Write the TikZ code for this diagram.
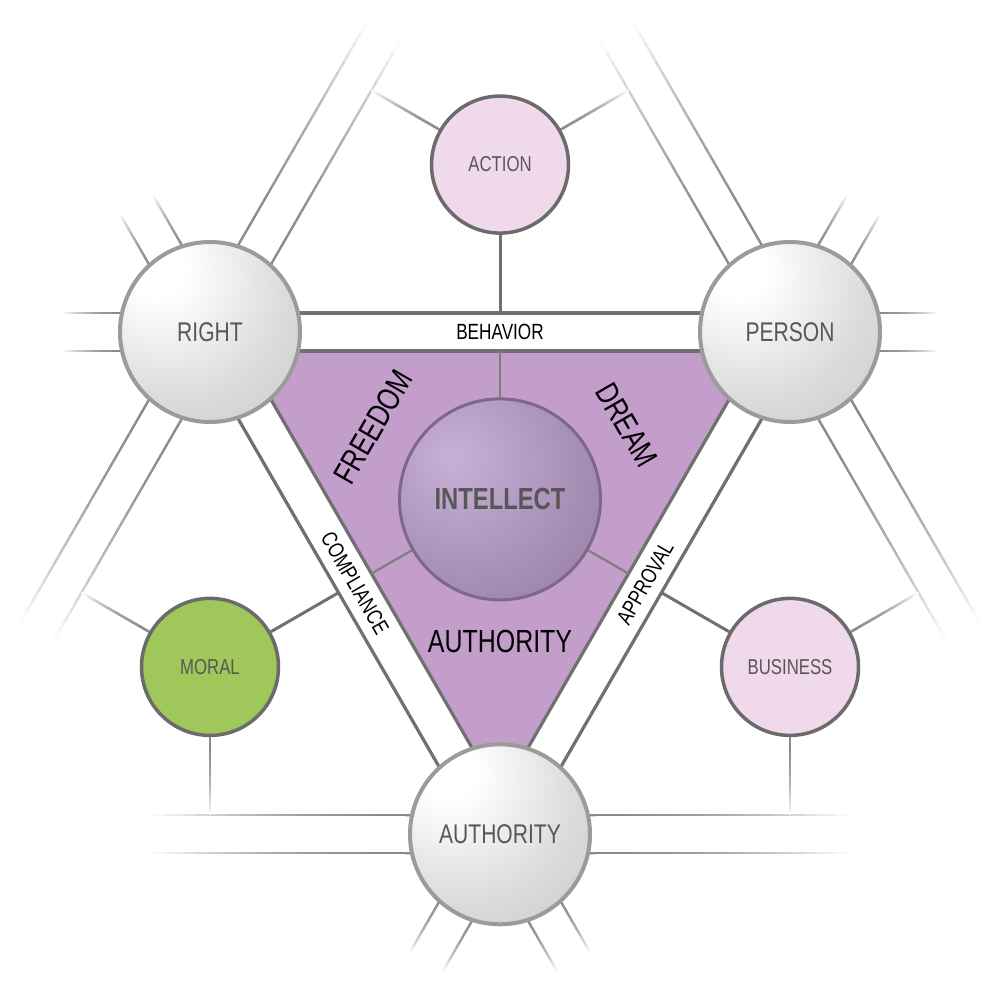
\documentclass[tikz,border=0pt]{standalone}
\usepackage{fontspec}
\setmainfont{Liberation Sans}[FakeStretch=0.78]
\usepackage{tikz}
\usetikzlibrary{calc}
\usetikzlibrary{backgrounds}
\definecolor{bandgray}{HTML}{707070}
\definecolor{rimgray}{HTML}{9B9B9B}
\definecolor{smallrim}{HTML}{6B6B6B}
\definecolor{labelgray}{HTML}{575757}
\definecolor{pinkfill}{HTML}{EFD9EB}
\definecolor{mossfill}{HTML}{A0C75A}
\definecolor{lilac}{HTML}{C39ECB}
\definecolor{intelrim}{HTML}{7C6887}
\definecolor{ballmid}{HTML}{DBDBDB}
\definecolor{ballrim}{HTML}{B6B6B6}
\definecolor{intelhi}{HTML}{C9B0D8}
\definecolor{intelmid}{HTML}{A58CB2}
\definecolor{intellow}{HTML}{866D93}
\pgfdeclareradialshading{greyball}{\pgfpoint{-16bp}{19bp}}{color(0bp)=(white); color(8bp)=(white); color(32bp)=(ballmid); color(72bp)=(ballrim); color(100bp)=(ballrim)}
\pgfdeclareradialshading{intelball}{\pgfpoint{-12bp}{11bp}}{color(0bp)=(intelhi); color(30bp)=(intelmid); color(62bp)=(intellow); color(100bp)=(intellow)}
\tikzstyle{bignode} = [circle, minimum size=180, inner sep=0, draw=rimgray, line width=4, shade, shading=greyball, text=labelgray, font=\fontsize{27}{30}\selectfont]
\tikzstyle{smallnode} = [circle, minimum size=137, inner sep=0, draw=smallrim, line width=3.5, text=labelgray, font=\fontsize{21.5}{24}\selectfont]
\tikzstyle{intelnode} = [circle, minimum size=201, inner sep=0, draw=intelrim, line width=3, shade, shading=intelball, text=labelgray, font=\bfseries\fontsize{30.5}{32}\selectfont]
\tikzstyle{arealabel} = [inner sep=0, text=black, font=\fontsize{32}{34}\selectfont]
\tikzstyle{bandlabel} = [inner sep=0, text=black, font=\fontsize{22}{24}\selectfont]
\tikzstyle{bandline} = [draw=bandgray, line width=3.2]
\tikzstyle{spoke} = [draw=bandgray, line width=3]
\tikzstyle{intelspoke} = [draw=bandgray!90, line width=2.2]
% one grey line that fades to white, cut in short pieces
\newcommand\fadeline[3][2.4]{%
  \foreach \k in {0,...,23}{%
    \pgfmathsetmacro\fadepct{92*(1-((\k+0.5)/24)^2)}%
    \draw[line width=#1, draw=gray!\fadepct] ($(#2)!\k/24!(#3)$) -- ($(#2)!\k/24+1/24!(#3)$);
  }}
% two fading lines of a band leaving a node
\newcommand\fadeband[3]{%
  \foreach \sd in {90,270}{%
    \coordinate (fs) at ($(#1)+({#2+\sd}:19)+(#2:84)$);
    \coordinate (fe) at ($(#1)+({#2+\sd}:19)+(#2:#3)$);
    \fadeline{fs}{fe}}}
% two solid lines of a band between nodes
\newcommand\solidband[3]{%
  \foreach \sd in {90,270}{%
    \draw[bandline] ($(#1)+({#3+\sd}:19)$) -- ($(#2)+({#3+\sd}:19)$);}}
% fading spoke from a small node to its band
\newcommand\fadespoke[2]{%
  \coordinate (fs) at (#1.#2);
  \coordinate (fe) at ($(#1)+(#2:148.4)$);
  \fadeline[2.6]{fs}{fe}}
\begin{document}
\begin{tikzpicture}[x=1pt,y=1pt]
	\useasboundingbox (0,0) rectangle (1000,1000);
	% -------------- Corners --------------
	\node[bignode] (right)  at (210,668)   {RIGHT};
	\node[bignode] (person) at (790,668)   {PERSON};
	\node[bignode] (auth)   at (500,165.7) {AUTHORITY};
	% -------------- Middle --------------
	\node[intelnode] (intel) at (500,500.6) {INTELLECT};
	% -------------- Outer --------------
	\node[smallnode, fill=pinkfill] (action)   at (500,835.4) {ACTION};
	\node[smallnode, fill=mossfill] (moral)    at (210,333.1) {MORAL};
	\node[smallnode, fill=pinkfill] (business) at (790,333.1) {BUSINESS};
	% -------------- Labels --------------
	\node[arealabel, rotate=60]  (freedom) at (373,573) {FREEDOM};
	\node[arealabel, rotate=-60] (dream)   at (627,575) {DREAM};
	\node[arealabel]             (authlbl) at (500,359) {AUTHORITY};
	\path (right) -- node[bandlabel] (behavior) {BEHAVIOR} (person);
	\path (right) -- node[bandlabel, sloped] (compliance) {COMPLIANCE} (auth);
	\path (auth) -- node[bandlabel, sloped] (approval) {APPROVAL} (person);
	\begin{pgfonlayer}{background}
	\fill[white] (0,0) rectangle (1000,1000);
	\fill[lilac] ($(intel)+(150:296.8)$) -- ($(intel)+(30:296.8)$) -- ($(intel)+(270:296.8)$) -- cycle;
	% -------------- Bands --------------
	\solidband{right}{person}{0}
	\solidband{right}{auth}{300}
	\solidband{auth}{person}{60}
	\fadeband{right}{60}{345}
	\fadeband{right}{240}{345}
	\fadeband{right}{180}{148}
	\fadeband{right}{120}{148}
	\fadeband{person}{120}{345}
	\fadeband{person}{300}{345}
	\fadeband{person}{0}{148}
	\fadeband{person}{60}{148}
	\fadeband{auth}{0}{348}
	\fadeband{auth}{180}{348}
	\fadeband{auth}{240}{148}
	\fadeband{auth}{300}{148}
	% -------------- Spokes --------------
	\foreach \a in {90,210,330}
		\draw[intelspoke] (intel.\a) -- ($(intel)+(\a:148.4)$);
	\draw[spoke] (action.270)  -- ($(action)+(270:148.4)$);
	\draw[spoke] (moral.30)    -- ($(moral)+(30:148.4)$);
	\draw[spoke] (business.150) -- ($(business)+(150:148.4)$);
	\fadespoke{action}{150}
	\fadespoke{action}{30}
	\fadespoke{moral}{150}
	\fadespoke{moral}{270}
	\fadespoke{business}{30}
	\fadespoke{business}{270}
	\end{pgfonlayer}
\end{tikzpicture}
\end{document}
